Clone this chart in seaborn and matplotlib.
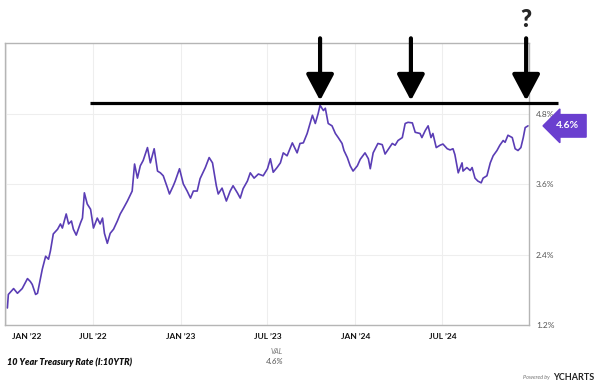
import pandas as pd
import matplotlib
matplotlib.use("Agg")
import matplotlib.pyplot as plt
import matplotlib.transforms as mtransforms
import seaborn as sns

# 10 year treasury rate (month-day, %)
dates_2022 = ["01-03", "01-05", "01-16", "01-24", "02-03", "02-14", "02-20", "02-24", "03-03", "03-07",
              "03-17", "03-24", "03-30", "04-03", "04-09", "04-18", "04-24", "04-28", "05-06", "05-11",
              "05-17", "05-21", "05-27", "06-05", "06-09", "06-13", "06-19", "06-26", "07-02", "07-10",
              "07-16", "07-21", "07-25", "07-31", "08-06", "08-13", "08-21", "08-27", "09-03", "09-11",
              "09-21", "09-26", "10-02", "10-08", "10-14", "10-23", "10-29", "11-06", "11-13", "11-19",
              "11-25", "12-04", "12-08", "12-16", "12-20", "12-29"]
rates_2022 = [1.49, 1.72, 1.82, 1.74, 1.82, 1.99, 1.94, 1.89, 1.72, 1.74,
              2.15, 2.37, 2.32, 2.46, 2.75, 2.83, 2.92, 2.85, 3.09, 2.92,
              2.97, 2.83, 2.73, 2.94, 3.02, 3.45, 3.26, 3.17, 2.85, 3.02,
              2.92, 3.02, 2.76, 2.59, 2.76, 2.83, 2.97, 3.09, 3.19, 3.31,
              3.48, 3.94, 3.70, 3.91, 4.00, 4.22, 3.96, 4.20, 3.82, 3.79,
              3.74, 3.53, 3.43, 3.57, 3.65, 3.86]

dates_2023 = ["01-06", "01-14", "01-21", "01-27", "02-04", "02-10", "02-21", "03-01", "03-08", "03-16",
              "03-20", "03-28", "04-06", "04-14", "04-20", "04-29", "05-05", "05-11", "05-20", "05-26",
              "06-03", "06-12", "06-22", "07-01", "07-07", "07-13", "07-21", "07-28", "08-03", "08-11",
              "08-22", "09-01", "09-07", "09-14", "09-22", "10-03", "10-09", "10-15", "10-19", "10-26",
              "10-30", "11-05", "11-13", "11-20", "11-26", "12-04", "12-08", "12-15", "12-21", "12-27"]
rates_2023 = [3.60, 3.48, 3.36, 3.48, 3.48, 3.69, 3.88, 4.05, 3.96, 3.57,
              3.43, 3.53, 3.31, 3.48, 3.57, 3.45, 3.36, 3.52, 3.65, 3.79,
              3.70, 3.77, 3.74, 3.86, 4.03, 3.80, 3.88, 3.96, 4.13, 4.08,
              4.30, 4.13, 4.29, 4.30, 4.46, 4.77, 4.63, 4.80, 4.94, 4.85,
              4.89, 4.63, 4.59, 4.46, 4.39, 4.29, 4.17, 4.05, 3.91, 3.82]

dates_2024 = ["01-05", "01-11", "01-21", "01-28", "02-01", "02-07", "02-17", "02-26", "03-03", "03-18",
              "03-24", "03-30", "04-08", "04-14", "04-20", "04-29", "05-05", "05-15", "05-19", "05-26",
              "06-01", "06-07", "06-11", "06-18", "06-26", "07-02", "07-11", "07-17", "07-23", "07-27",
              "08-03", "08-11", "08-13", "08-21", "08-28", "09-01", "09-07", "09-13", "09-20", "09-24",
              "10-02", "10-09", "10-15", "10-23", "10-29", "11-05", "11-09", "11-15", "11-24", "11-30",
              "12-06", "12-12", "12-17", "12-21", "12-27"]
rates_2024 = [3.91, 4.02, 4.13, 4.03, 3.86, 4.13, 4.29, 4.27, 4.11, 4.29,
              4.26, 4.34, 4.39, 4.63, 4.65, 4.64, 4.48, 4.46, 4.39, 4.51,
              4.59, 4.39, 4.46, 4.22, 4.26, 4.28, 4.20, 4.18, 4.20, 4.10,
              3.79, 3.96, 3.82, 3.88, 3.83, 3.88, 3.70, 3.65, 3.62, 3.70,
              3.74, 3.96, 4.08, 4.17, 4.26, 4.34, 4.31, 4.43, 4.39, 4.20,
              4.17, 4.22, 4.39, 4.56, 4.59]

y_ticks = [1.2, 2.4, 3.6, 4.8]
x_tick_dates = ["2022-01-01", "2022-07-01", "2023-01-01", "2023-07-01", "2024-01-01", "2024-07-01"]
x_tick_labels = ["JAN \u201922", "JUL \u201922", "JAN \u201923", "JUL \u201923", "JAN \u201924", "JUL \u201924"]

# annotation drawn on top of the chart
resistance = 4.98
line_start, line_end = "2022-06-25", "2025-02-28"
arrow_dates = ["2023-10-19", "2024-04-26", "2024-12-23"]

LINE = "#5a3db5"
BADGE = "#6a3fcf"

df = pd.DataFrame({
    "date": pd.to_datetime(["2022-" + d for d in dates_2022]
                           + ["2023-" + d for d in dates_2023]
                           + ["2024-" + d for d in dates_2024]),
    "rate": rates_2022 + rates_2023 + rates_2024,
})

sns.set_style("white")
plt.rcParams["font.family"] = ["Lato", "DejaVu Sans"]

fig = plt.figure(figsize=(6, 3.89), dpi=100)
ax = fig.add_axes([5 / 600, 64 / 389, 524 / 600, 282 / 389])
sns.lineplot(data=df, x="date", y="rate", ax=ax, color=LINE, linewidth=1.2)

ax.set_xlim(pd.Timestamp("2021-12-29"), pd.Timestamp("2024-12-29"))
ax.set_ylim(1.2, 6.0)
ax.set_xlabel("")
ax.set_ylabel("")

ax.set_yticks(y_ticks)
ax.set_yticklabels([f"{t:.1f}%" for t in y_ticks])
ax.yaxis.tick_right()
ax.tick_params(axis="y", length=0, pad=5, labelsize=6, labelcolor="#555555")

ax.set_xticks(pd.to_datetime(x_tick_dates))
ax.set_xticklabels(x_tick_labels, fontweight="bold")
ax.tick_params(axis="x", length=0, pad=6, labelsize=6, labelcolor="#111111")
first = ax.get_xticklabels()[0]
first.set_transform(first.get_transform() + mtransforms.ScaledTranslation(0.2, 0, fig.dpi_scale_trans))

ax.grid(True, color="#eeeeee", linewidth=0.8)
for s in ax.spines.values():
    s.set_color("#b5b5b5")
    s.set_linewidth(1)

# resistance line + arrows
ax.plot([pd.Timestamp(line_start), pd.Timestamp(line_end)], [resistance, resistance],
        color="black", linewidth=2.3, clip_on=False, solid_capstyle="butt", zorder=6)
for d in arrow_dates:
    ax.annotate("", xy=(pd.Timestamp(d), 5.02), xytext=(pd.Timestamp(d), 6.08),
                arrowprops=dict(arrowstyle="-|>,head_width=0.85,head_length=1.6",
                                color="black", lw=3, shrinkA=0, shrinkB=0),
                annotation_clip=False, zorder=7)
ax.text(pd.Timestamp(arrow_dates[-1]), 6.39, "?", ha="center", va="center",
        fontsize=17, fontweight="heavy", clip_on=False)

# last value badge
badge_tr = mtransforms.blended_transform_factory(ax.transAxes, ax.transData)
ax.text(1.074, rates_2024[-1], f"{rates_2024[-1]:.1f}%", transform=badge_tr,
        ha="center", va="center", fontsize=7.5, fontweight="bold", color="white",
        bbox=dict(boxstyle="larrow,pad=0.65", fc=BADGE, ec=BADGE), zorder=10, clip_on=False)

# legend row
fig.text(7 / 600, 1 - 362 / 389, "10 Year Treasury Rate (I:10YTR)", fontsize=6.5,
         fontweight="heavy", style="italic", va="center", color="#111111")
fig.text(283 / 600, 1 - 351 / 389, "VAL", fontsize=5, style="italic", ha="right",
         va="center", color="#777777")
fig.text(283 / 600, 1 - 362 / 389, f"{rates_2024[-1]:.1f}%", fontsize=6, style="italic",
         ha="right", va="center", color="#555555")
fig.text(550 / 600, 1 - 378 / 389, "Powered by", fontsize=4, style="italic", ha="right",
         va="center", color="#777777")
fig.text(553 / 600, 1 - 378 / 389, "YCHARTS", fontsize=6.5, fontweight="bold",
         va="center", color="#222222")

fig.savefig("out.png", dpi=100)
